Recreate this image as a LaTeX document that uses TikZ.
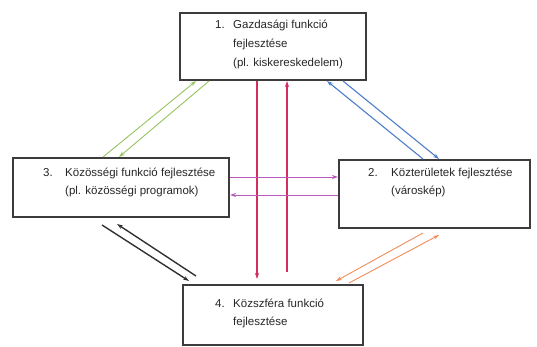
\documentclass[tikz,border=0pt]{standalone}
\usepackage{fontspec}
\setmainfont{Liberation Sans}
\usetikzlibrary{arrows.meta}
\definecolor{cred}{RGB}{214,45,95}
\definecolor{cgreen}{RGB}{150,195,95}
\definecolor{cblue}{RGB}{75,125,200}
\definecolor{cpurple}{RGB}{185,90,185}
\definecolor{cblack}{RGB}{50,50,50}
\definecolor{corange}{RGB}{240,140,90}
\definecolor{cbox}{RGB}{60,60,60}
\tikzset{
  box/.style={draw=cbox,line width=1.2pt},
  txt/.style={anchor=base west,inner sep=0pt,font=\fontsize{11.5}{14}\selectfont,text=black!85},
  arr/.style={line width=1.1pt,-{Stealth[length=6pt,width=4pt]}},
}
\begin{document}
\begin{tikzpicture}[x=1pt,y=-1pt]
\useasboundingbox (0,0) rectangle (537,347);
% boxes
\draw[box] (180,13) rectangle (366,80);
\node[inner sep=0pt] (b1) at (273,46.5) {};
\draw[box] (13,158) rectangle (229,217);
\node[inner sep=0pt] (b3) at (121,187.5) {};
\draw[box] (339,160) rectangle (530,228);
\node[inner sep=0pt] (b2) at (434.5,194) {};
\draw[box] (183,285) rectangle (363,345);
\node[inner sep=0pt] (b4) at (273,315) {};
% texts
\node[txt] (t1n) at (215,29) {1.};
\node[txt] (t1a) at (233,29) {Gazdasági funkció};
\node[txt] (t1b) at (233,48) {fejlesztése};
\node[txt] (t1c) at (233,67) {(pl. kiskereskedelem)};
\node[txt] (t3n) at (43,177) {3.};
\node[txt] (t3a) at (65,177) {Közösségi funkció fejlesztése};
\node[txt] (t3b) at (65,195) {(pl. közösségi programok)};
\node[txt] (t2n) at (368,177) {2.};
\node[txt] (t2a) at (391,177) {Közterületek fejlesztése};
\node[txt] (t2b) at (391,195) {(városkép)};
\node[txt] (t4n) at (215,307) {4.};
\node[txt] (t4a) at (233,307) {Közszféra funkció};
\node[txt] (t4b) at (233,325) {fejlesztése};
% connector end points
\coordinate (r1s) at (257,81);  \coordinate (r1e) at (257,279);
\coordinate (r2s) at (287,272); \coordinate (r2e) at (287,81);
\coordinate (g1s) at (103,157); \coordinate (g1e) at (196,81);
\coordinate (g2s) at (209,81);  \coordinate (g2e) at (119,157);
\coordinate (bl1s) at (423,159); \coordinate (bl1e) at (327,81);
\coordinate (bl2s) at (343,81); \coordinate (bl2e) at (439,159);
\coordinate (p1s) at (230,177); \coordinate (p1e) at (338,177);
\coordinate (p2s) at (338,195); \coordinate (p2e) at (230,195);
\coordinate (k1s) at (102,225); \coordinate (k1e) at (189,281);
\coordinate (k2s) at (196,276); \coordinate (k2e) at (117,224);
\coordinate (o1s) at (423,233); \coordinate (o1e) at (336,281);
\coordinate (o2s) at (349,283); \coordinate (o2e) at (439,235);
% connectors
\draw[arr,cred] (r1s) -- (r1e);
\draw[arr,cred] (r2s) -- (r2e);
\draw[arr,cgreen,line width=0.9pt] (g1s) -- (g1e);
\draw[arr,cgreen,line width=0.9pt] (g2s) -- (g2e);
\draw[arr,cblue] (bl1s) -- (bl1e);
\draw[arr,cblue] (bl2s) -- (bl2e);
\draw[arr,cpurple,line width=0.9pt] (p1s) -- (p1e);
\draw[arr,cpurple,line width=0.9pt] (p2s) -- (p2e);
\draw[arr,cblack,line width=1.4pt] (k1s) -- (k1e);
\draw[arr,cblack,line width=1.4pt] (k2s) -- (k2e);
\draw[arr,corange,line width=0.9pt] (o1s) -- (o1e);
\draw[arr,corange,line width=0.9pt] (o2s) -- (o2e);
\end{tikzpicture}
\end{document}
